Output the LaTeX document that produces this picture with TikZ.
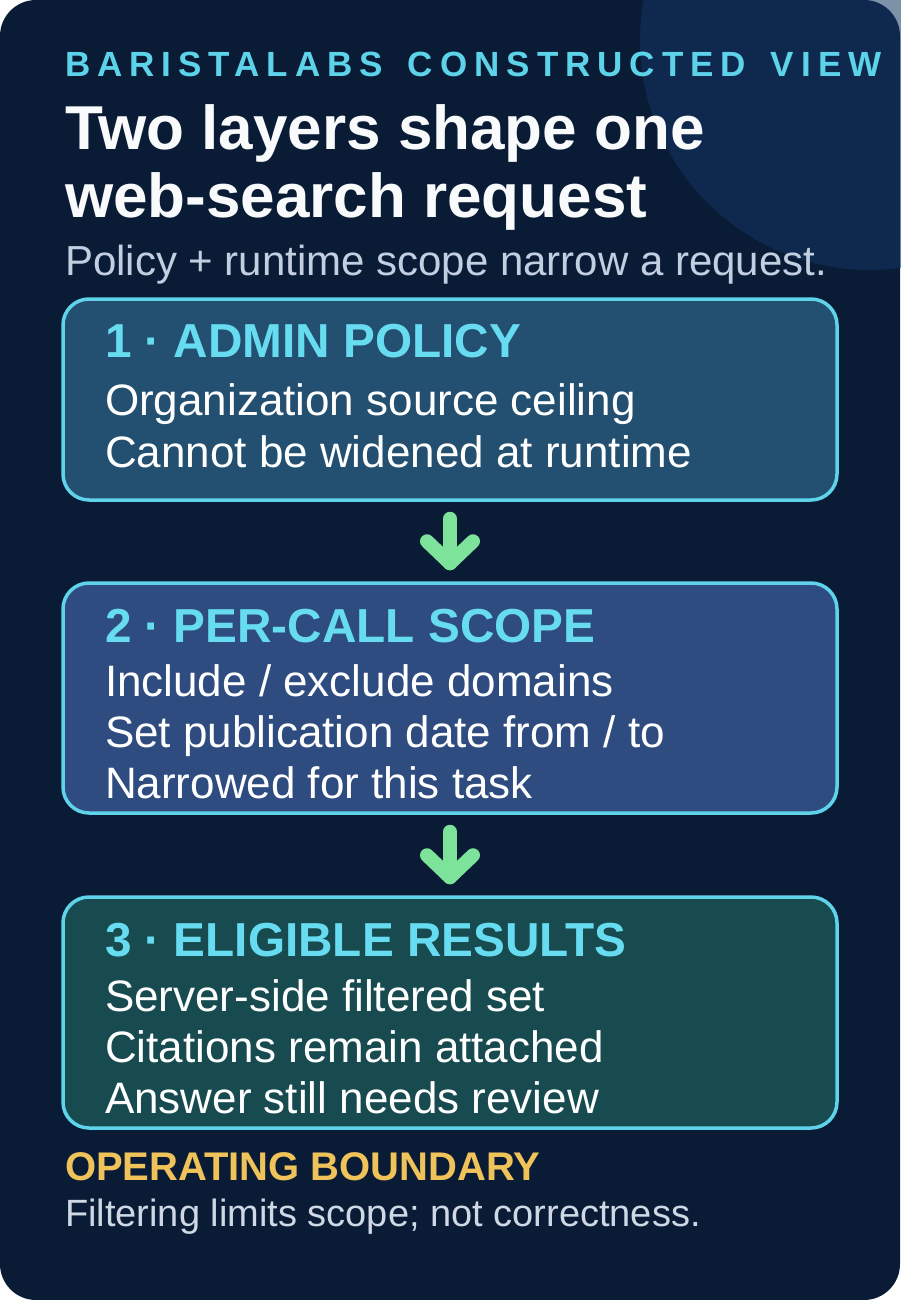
\documentclass[tikz,border=0pt]{standalone}
\usepackage{fontspec}
\setmainfont{Liberation Sans}
\newfontfamily\eyebrowfont[LetterSpace=20]{Liberation Sans Bold}
\usetikzlibrary{calc}
\definecolor{cardbg}{HTML}{0A1B35}
\definecolor{circfill}{HTML}{133661}
\definecolor{eyebrow}{HTML}{5DD3EA}
\definecolor{titlec}{HTML}{F8FAFC}
\definecolor{subc}{HTML}{C2CFE0}
\definecolor{edge}{HTML}{5FD3EA}
\definecolor{headc}{HTML}{67DCF0}
\definecolor{fillA}{HTML}{234F70}
\definecolor{fillB}{HTML}{2E4C80}
\definecolor{fillC}{HTML}{174B50}
\definecolor{flowc}{HTML}{7EE39A}
\definecolor{goldc}{HTML}{F0C25A}
\definecolor{footc}{HTML}{CFD9E6}
\tikzset{
  stage/.style={draw=edge, line width=3.5pt, rounded corners=26pt, minimum width=774pt, inner sep=0pt},
  lbl/.style={anchor=base west, inner sep=0pt, outer sep=0pt},
  head/.style={lbl, text=headc, font=\fontsize{47.7}{52}\selectfont\bfseries},
  body/.style={lbl, text=white, font=\fontsize{44}{52}\selectfont},
  flow/.style={draw=flowc, line width=14pt, line cap=round, line join=round},
}
\begin{document}
\begin{tikzpicture}[x=1pt,y=-1pt]
\useasboundingbox (0,0) rectangle (900,1300);
\fill[cardbg, rounded corners=36pt] (0,0) rectangle (900,1300);
\fill[circfill, opacity=0.55] (870,40) circle (230pt);

\node[lbl, text=eyebrow, font=\fontsize{35}{40}\eyebrowfont] (eyebrow) at (65,77) {BARISTALABS\hspace{8pt} CONSTRUCTED\hspace{8pt} VIEW};
\node[lbl, text=titlec, font=\fontsize{62}{67}\selectfont\bfseries] (title1) at (65,150) {Two layers shape one};
\node[lbl, text=titlec, font=\fontsize{62}{67}\selectfont\bfseries] (title2) at (65,217) {web-search request};
\node[lbl, text=subc, font=\fontsize{42}{50}\selectfont] (sub) at (65,275) {Policy + runtime scope narrow a request.};

\node[stage, fill=fillA, minimum height=201pt] (b1) at (450,399.5) {};
\node[stage, fill=fillB, minimum height=230pt] (b2) at (450,698) {};
\node[stage, fill=fillC, minimum height=231pt] (b3) at (450,1012.5) {};

\node[head] (h1) at (105,357) {1 · ADMIN POLICY};
\node[body] (l11) at (105,415) {Organization source ceiling};
\node[body] (l12) at (105,467) {Cannot be widened at runtime};

\node[head] (h2) at (105,642) {2 · PER-CALL SCOPE};
\node[body] (l21) at (105,696) {Include / exclude domains};
\node[body] (l22) at (105,747) {Set publication date from / to};
\node[body] (l23) at (105,798) {Narrowed for this task};

\node[head] (h3) at (105,956) {3 · ELIGIBLE RESULTS};
\node[body] (l31) at (105,1011) {Server-side filtered set};
\node[body] (l32) at (105,1062) {Citations remain attached};
\node[body] (l33) at (105,1113) {Answer still needs review};

\node[lbl, text=goldc, font=\fontsize{40}{44}\selectfont\bfseries] (foothead) at (65,1180) {OPERATING BOUNDARY};
\node[lbl, text=footc, font=\fontsize{38}{44}\selectfont] (foottext) at (65,1226) {Filtering limits scope; not correctness.};

\coordinate (t1) at ($(b2.north)+(0,-18)$);
\coordinate (t2) at ($(b3.north)+(0,-18)$);
\draw[flow, shorten <=17pt] (b1.south) -- (t1);
\draw[flow] ($(t1)+(-23,-22)$) -- (t1) -- ($(t1)+(23,-22)$);
\draw[flow, shorten <=17pt] (b2.south) -- (t2);
\draw[flow] ($(t2)+(-23,-22)$) -- (t2) -- ($(t2)+(23,-22)$);
\end{tikzpicture}
\end{document}
